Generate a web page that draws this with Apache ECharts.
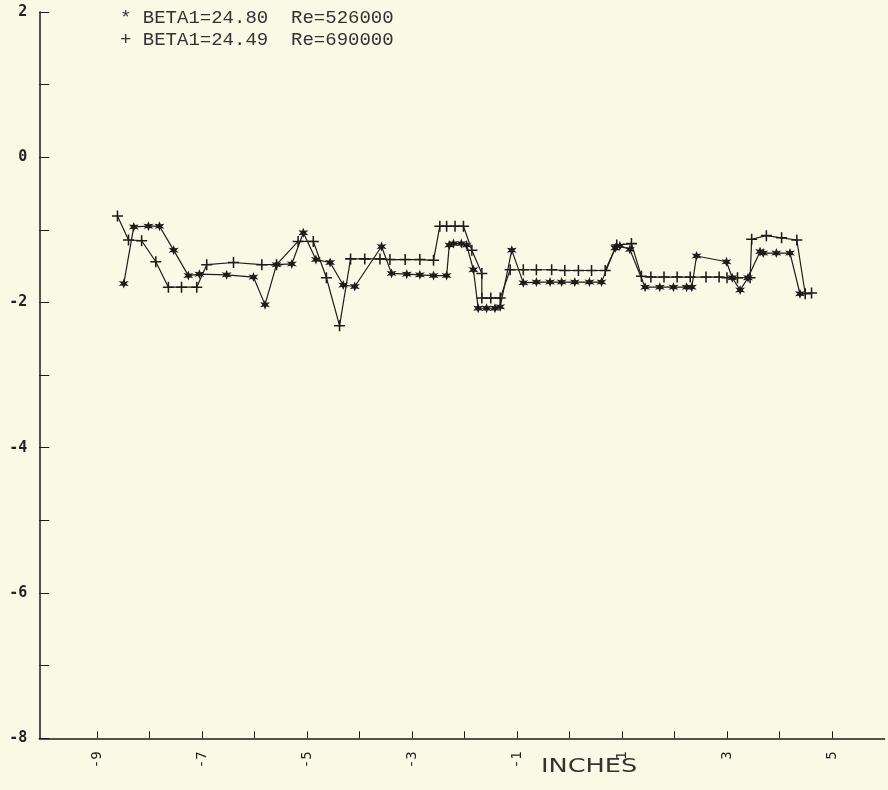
<!DOCTYPE html>
<html><head><meta charset="utf-8">
<script src="https://cdn.jsdelivr.net/npm/echarts@6/dist/echarts.min.js"></script>
<style>html,body{margin:0;padding:0;background:#f9f9e6}#c{width:888px;height:790px}</style>
</head><body><div id="c"></div>
<script>
const seriesNames = ['BETA1=24.80  Re=526000', 'BETA1=24.49  Re=690000'];
const legendMarks = ['*', '+'];

// Series "*" (Re=526000)
const starX = [-8.49,-8.30,-8.02,-7.81,-7.54,-7.26,-7.05,-6.53,-6.02,-5.80,-5.58,-5.29,-5.07,-4.83,-4.56,-4.31,-4.09,-3.58,-3.39,-3.10,-2.85,-2.59,-2.34,-2.29,-2.21,-2.06,-1.96,-1.83,-1.74,-1.58,-1.42,-1.32,-1.10,-0.88,-0.63,-0.37,-0.15,0.10,0.38,0.61,0.87,0.96,1.15,1.44,1.72,1.98,2.23,2.33,2.42,2.99,3.10,3.25,3.40,3.63,3.69,3.94,4.20,4.39];
const starY = [-1.74,-0.96,-0.95,-0.95,-1.28,-1.63,-1.61,-1.62,-1.65,-2.03,-1.48,-1.47,-1.04,-1.41,-1.45,-1.76,-1.78,-1.23,-1.60,-1.61,-1.62,-1.63,-1.63,-1.21,-1.19,-1.19,-1.21,-1.55,-2.08,-2.08,-2.08,-2.06,-1.28,-1.73,-1.72,-1.72,-1.72,-1.72,-1.72,-1.72,-1.25,-1.22,-1.27,-1.79,-1.79,-1.79,-1.79,-1.79,-1.36,-1.44,-1.66,-1.83,-1.66,-1.30,-1.32,-1.32,-1.32,-1.88];

// Series "+" (Re=690000)
const plusX = [-8.61,-8.40,-8.15,-7.88,-7.64,-7.39,-7.10,-6.91,-6.40,-5.86,-5.58,-5.17,-4.88,-4.63,-4.38,-4.17,-3.90,-3.61,-3.42,-3.13,-2.85,-2.59,-2.47,-2.34,-2.18,-2.02,-1.86,-1.67,-1.67,-1.50,-1.32,-1.13,-0.88,-0.63,-0.34,-0.09,0.17,0.42,0.68,0.90,1.18,1.37,1.55,1.80,2.05,2.30,2.60,2.85,3.00,3.20,3.44,3.47,3.75,4.04,4.33,4.49,4.61];
const plusY = [-0.81,-1.14,-1.15,-1.44,-1.79,-1.79,-1.79,-1.48,-1.45,-1.48,-1.48,-1.16,-1.16,-1.66,-2.32,-1.40,-1.40,-1.40,-1.41,-1.41,-1.41,-1.42,-0.95,-0.95,-0.95,-0.95,-1.28,-1.60,-1.94,-1.94,-1.94,-1.55,-1.55,-1.55,-1.55,-1.56,-1.56,-1.56,-1.56,-1.21,-1.19,-1.64,-1.65,-1.65,-1.65,-1.65,-1.65,-1.65,-1.66,-1.66,-1.66,-1.13,-1.08,-1.11,-1.14,-1.88,-1.87];

const xTickValues = [-9,-8,-7,-6,-5,-4,-3,-2,-1,0,1,2,3,4,5];
const xLabelValues = [-9,-7,-5,-3,-1,1,3,5];
const yLabelValues = [2,0,-2,-4,-6,-8];
const xAxisTitle = 'INCHES';

const STAR = 'path://M5,0L6.1,3.1L9.33,2.5L7.2,5L9.33,7.5L6.1,6.9L5,10L3.9,6.9L0.67,7.5L2.8,5L0.67,2.5L3.9,3.1Z';
const PLUS = 'path://M4.3,0H5.7V4.3H10V5.7H5.7V10H4.3V5.7H0V4.3H4.3Z';

function pairs(xs, ys){ return xs.map((x,i)=>[x, ys[i]]); }

const chart = echarts.init(document.getElementById('c'));
const ink = '#1c1c1c';
chart.setOption({
  backgroundColor: '#f9f9e6',
  animation: false,
  grid: { left: 39.25, right: 3.5, top: 11.9, bottom: 51.7, containLabel: false },
  legend: {
    data: seriesNames,
    orient: 'vertical', left: 110, top: 2, itemGap: 0,
    icon: 'none', itemWidth: 0, itemHeight: 0,
    formatter: name => legendMarks[seriesNames.indexOf(name)] + ' ' + name,
    textStyle: { fontFamily: 'Liberation Mono', fontSize: 19, color: '#333', padding: 0, lineHeight: 22 },
    selectedMode: false
  },
  xAxis: {
    type: 'value', min: -10.1, max: 6,
    axisLine: { show: true, onZero: false, lineStyle: { color: ink, width: 1.5 } },
    axisTick: { show: true, inside: true, length: 7, customValues: xTickValues, lineStyle: { color: ink } },
    axisLabel: { show: true, rotate: 90, margin: 13, customValues: xLabelValues,
      fontFamily: 'DejaVu Sans Mono', fontSize: 14, color: '#222',
      formatter: v => String(v) },
    splitLine: { show: false }
  },
  yAxis: {
    type: 'value', min: -8, max: 2, interval: 1,
    axisLine: { show: true, onZero: false, lineStyle: { color: ink, width: 1.5 } },
    axisTick: { show: true, inside: true, length: 10, lineStyle: { color: ink } },
    axisLabel: { show: true, margin: 12, fontFamily: 'DejaVu Sans Mono', fontWeight: 'bold', fontSize: 15, color: '#222',
      formatter: v => yLabelValues.includes(v) ? String(v) : '' },
    splitLine: { show: false }
  },
  graphic: [{
    type: 'text', left: 541, top: 757,
    scaleX: 1.28,
    style: { text: xAxisTitle, fontFamily: 'DejaVu Sans', fontSize: 20, fill: '#333' }
  }],
  series: [
    { name: seriesNames[0], type: 'line', data: pairs(starX, starY),
      symbol: STAR, symbolSize: 10, showAllSymbol: true,
      lineStyle: { color: ink, width: 1.2 }, itemStyle: { color: ink } },
    { name: seriesNames[1], type: 'line', data: pairs(plusX, plusY),
      symbol: PLUS, symbolSize: 11, showAllSymbol: true,
      lineStyle: { color: ink, width: 1.2 }, itemStyle: { color: ink } }
  ]
});
</script></body></html>
